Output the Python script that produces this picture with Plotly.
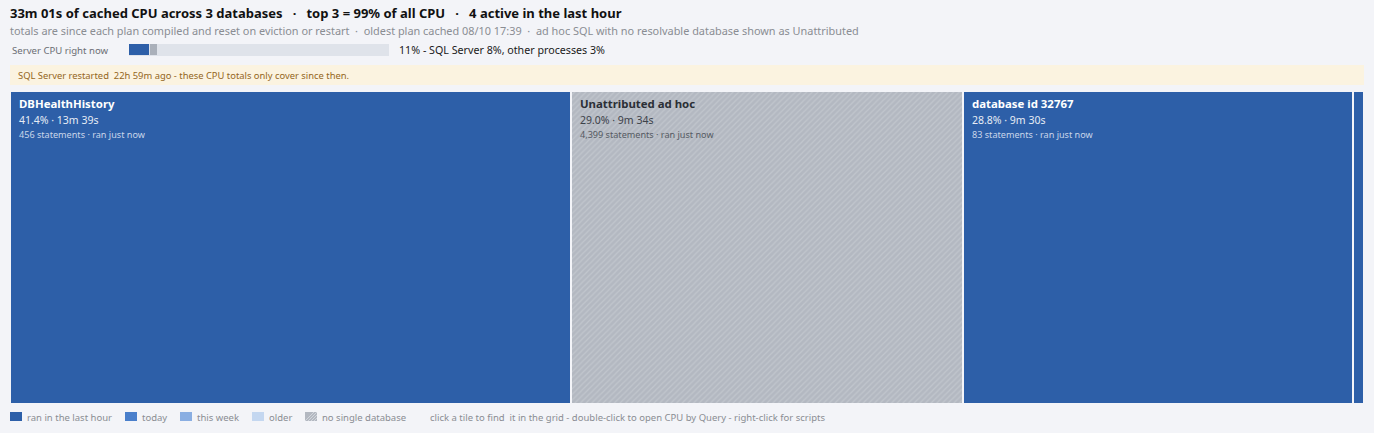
import plotly.graph_objects as go

# ---- data ----
tile_names = ["DBHealthHistory", "Unattributed ad hoc", "database id 32767", "other"]
tile_pct = [41.4, 29.0, 28.8, 0.8]
tile_time = ["13m 39s", "9m 34s", "9m 30s", ""]
tile_statements = ["456", "4,399", "83", ""]
tile_recency = ["ran just now", "ran just now", "ran just now", ""]
tile_kind = ["hour", "none", "hour", "hour"]  # recency bucket / unattributed

cpu_parts = ["SQL Server", "other processes"]
cpu_values = [8, 3]

legend_labels = ["ran in the last hour", "today", "this week", "older", "no single database"]

title = ("33m 01s of cached CPU across 3 databases   \u00b7   top 3 = 99% of all CPU   \u00b7   "
         "4 active in the last hour")
subtitle = ("totals are since each plan compiled and reset on eviction or restart  \u00b7  "
            "oldest plan cached 08/10 17:39  \u00b7  ad hoc SQL with no resolvable database shown as Unattributed")
banner = "SQL Server restarted  22h 59m ago - these CPU totals only cover since then."
helptext = "click a tile to find  it in the grid - double-click to open CPU by Query - right-click for scripts"

# ---- styles ----
W, H = 1374, 433
BG = "#f3f4f8"
FONT = "Noto Sans"
kind_color = {"hour": "#2d5fa8", "today": "#4a7fcb", "week": "#8aaee2", "older": "#c4d7f0", "none": "#b3b8c1"}
legend_colors = ["#2d5fa8", "#4a7fcb", "#8aaee2", "#c4d7f0", "#b3b8c1"]

def px(x):
    return x / W

def py(y):
    return 1 - y / H

fig = go.Figure()

# treemap-like tiles as a stacked horizontal bar
for i, name in enumerate(tile_names):
    fig.add_trace(go.Bar(
        x=[tile_pct[i]], y=["tiles"], orientation="h", name=name,
        marker=dict(
            color=kind_color[tile_kind[i]],
            line=dict(color=BG, width=2),
            pattern=dict(shape="/" if tile_kind[i] == "none" else "",
                         fgcolor="#d0d4da", size=4, solidity=0.3),
        ),
        hoverinfo="skip", showlegend=False, xaxis="x", yaxis="y",
    ))

# server CPU bar
cpu_colors = ["#2d5fa8", "#aab0ba"]
for i, part in enumerate(cpu_parts):
    fig.add_trace(go.Bar(
        x=[cpu_values[i]], y=["cpu"], orientation="h", name=part,
        marker=dict(color=cpu_colors[i], line=dict(color="#dfe3ea", width=1.5)),
        hoverinfo="skip", showlegend=False, xaxis="x2", yaxis="y2",
    ))

fig.update_layout(
    width=W, height=H, margin=dict(l=0, r=0, t=0, b=0),
    paper_bgcolor=BG, plot_bgcolor=BG,
    barmode="stack", bargap=0,
    font=dict(family=FONT),
    xaxis=dict(domain=[px(10), px(1364)], range=[0, 100], visible=False, fixedrange=True),
    yaxis=dict(domain=[py(404), py(91)], visible=False, fixedrange=True),
    xaxis2=dict(domain=[px(129), px(389)], range=[0, 100], visible=False, anchor="y2", fixedrange=True),
    yaxis2=dict(domain=[py(56), py(44)], visible=False, anchor="x2", fixedrange=True),
)

shapes = []
# CPU bar track
shapes.append(dict(type="rect", xref="paper", yref="paper", x0=px(129), x1=px(389), y0=py(56), y1=py(44),
                   fillcolor="#dfe3ea", line=dict(width=0), layer="below"))
# banner
shapes.append(dict(type="rect", xref="paper", yref="paper", x0=px(10), x1=px(1364), y0=py(85), y1=py(65),
                   fillcolor="#fbf3e0", line=dict(width=0), layer="below"))

ann = []

def ptext(text, x, y, size, color):
    ann.append(dict(text=text, x=px(x), y=py(y), xref="paper", yref="paper", xshift=-2,
                    xanchor="left", yanchor="middle", showarrow=False, font=dict(size=size, color=color)))

ptext("<b>" + title + "</b>", 10, 13, 13, "#111")
ptext(subtitle, 10, 31, 10.9, "#8a8d93")
ptext("Server CPU right now", 12, 50, 9.6, "#6b6e74")
cpu_total = sum(cpu_values)
cpu_text = f"{cpu_total}% - " + ", ".join(f"{p} {v}%" for p, v in zip(cpu_parts, cpu_values))
ptext(cpu_text, 399, 50, 10.7, "#1a1a1a")
ptext(banner, 18, 75, 9.4, "#94661c")

# tile labels
start = 0
for i, name in enumerate(tile_names):
    if tile_pct[i] >= 5:
        dark = tile_kind[i] == "none"
        c1 = "#2b2f36" if dark else "#ffffff"
        c2 = "#3d424a" if dark else "#e6ecf5"
        c3 = "#555a62" if dark else "#c9d6ea"
        ann.append(dict(text="<b>" + name + "</b>", x=start, y=py(104), xref="x", yref="paper",
                        xanchor="left", yanchor="middle", xshift=7, showarrow=False,
                        font=dict(size=11.4, color=c1)))
        ann.append(dict(text=f"{tile_pct[i]:.1f}% \u00b7 {tile_time[i]}", x=start, y=py(120), xref="x", yref="paper",
                        xanchor="left", yanchor="middle", xshift=7, showarrow=False,
                        font=dict(size=10.5, color=c2)))
        ann.append(dict(text=f"{tile_statements[i]} statements \u00b7 {tile_recency[i]}", x=start, y=py(135),
                        xref="x", yref="paper", xanchor="left", yanchor="middle", xshift=7, showarrow=False,
                        font=dict(size=9.1, color=c3)))
    start += tile_pct[i]

# legend
sw_x = [10, 125, 180, 252, 305]
for i, lab in enumerate(legend_labels):
    x0 = sw_x[i]
    shapes.append(dict(type="rect", xref="paper", yref="paper", x0=px(x0), x1=px(x0 + 12), y0=py(421), y1=py(412),
                       fillcolor=legend_colors[i], line=dict(width=0)))
    if i == 4:
        for k in range(0, 12, 3):
            x_end = min(x0 + k + 9, x0 + 12)
            shapes.append(dict(type="line", xref="paper", yref="paper",
                               x0=px(x0 + k), y0=py(421), x1=px(x_end),
                               y1=py(421 - (x_end - (x0 + k))),
                               line=dict(color="#d2d6dc", width=1)))
    ptext(lab, x0 + 17, 417, 9.5, "#8a8d93")
ptext(helptext, 430, 417, 9.5, "#8a8d93")

fig.update_layout(shapes=shapes, annotations=ann)
fig.write_html("out.html", config={"displayModeBar": False},
               post_script="document.body.style.margin='0';document.body.style.overflow='hidden';")
